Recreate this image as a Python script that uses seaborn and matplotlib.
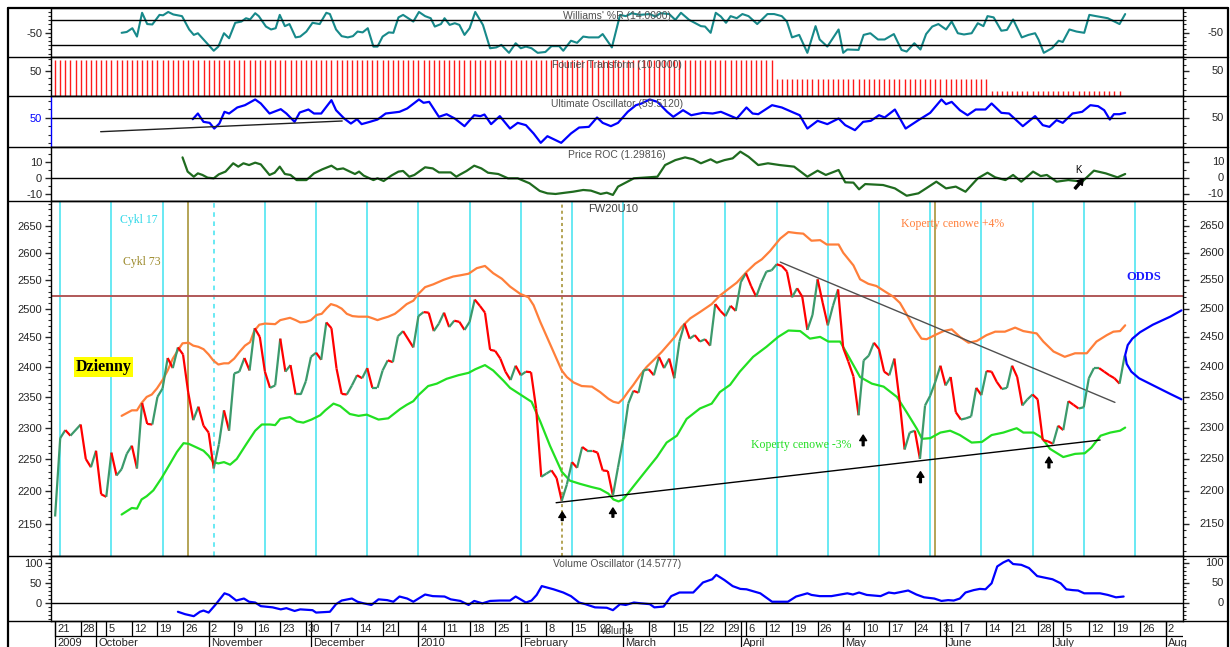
import numpy as np
import pandas as pd
import matplotlib
matplotlib.use('Agg')
import matplotlib.pyplot as plt
import seaborn as sns
from matplotlib.collections import LineCollection
from matplotlib.ticker import FixedLocator, FuncFormatter, NullFormatter
from matplotlib.transforms import blended_transform_factory

sns.set_style('white')
plt.rcParams['font.family'] = ['Liberation Sans', 'DejaVu Sans']
SERIF = ['Liberation Serif', 'DejaVu Serif']

# ---------------- data (x = trading day, 0 = 2009-09-21) ----------------
price = [(0, 2161), (1, 2283), (2, 2296), (3, 2287), (5, 2305), (6, 2250), (7, 2237), (8, 2263),
         (9, 2195), (10, 2191), (11, 2260), (12, 2224), (13, 2234), (14, 2258), (15, 2271), (16, 2235),
         (17, 2340), (18, 2306), (19, 2305), (20, 2350), (21, 2364), (22, 2415), (23, 2398), (24, 2433),
         (25, 2421), (26, 2358), (27, 2312), (28, 2334), (29, 2303), (30, 2292), (31, 2235), (32, 2273),
         (33, 2328), (34, 2295), (35, 2389), (36, 2392), (37, 2415), (38, 2394), (39, 2466), (40, 2451),
         (41, 2392), (42, 2365), (43, 2369), (44, 2448), (45, 2392), (46, 2403), (47, 2354), (48, 2354),
         (49, 2376), (50, 2417), (51, 2424), (52, 2412), (53, 2476), (54, 2466), (55, 2397), (56, 2355),
         (57, 2354), (58, 2369), (59, 2386), (60, 2381), (61, 2398), (62, 2365), (63, 2365), (64, 2394),
         (65, 2411), (66, 2408), (67, 2452), (68, 2461), (70, 2433), (71, 2487), (72, 2494), (73, 2493),
         (74, 2461), (75, 2474), (76, 2493), (77, 2468), (78, 2479), (79, 2477), (80, 2463), (81, 2477),
         (82, 2516), (83, 2505), (84, 2493), (85, 2429), (86, 2427), (87, 2414), (88, 2392), (89, 2378),
         (90, 2402), (91, 2386), (92, 2392), (93, 2391), (94, 2331), (95, 2222), (96, 2227), (97, 2232),
         (98, 2220), (99, 2185), (100, 2210), (101, 2245), (102, 2236), (103, 2269), (104, 2263),
         (105, 2263), (106, 2260), (107, 2232), (108, 2231), (109, 2193), (110, 2237), (111, 2281),
         (112, 2339), (113, 2360), (114, 2357), (115, 2394), (116, 2396), (117, 2386), (118, 2417),
         (119, 2398), (120, 2414), (121, 2381), (122, 2443), (123, 2474), (124, 2448), (125, 2454),
         (126, 2443), (127, 2447), (128, 2436), (129, 2508), (130, 2496), (131, 2487), (132, 2505),
         (133, 2496), (134, 2547), (135, 2563), (136, 2540), (137, 2521), (138, 2546), (139, 2566),
         (140, 2568), (141, 2579), (142, 2576), (143, 2566), (144, 2520), (145, 2536), (146, 2521),
         (147, 2463), (148, 2489), (149, 2552), (150, 2510), (151, 2471), (152, 2505), (153, 2534),
         (154, 2432), (155, 2409), (156, 2384), (157, 2320), (158, 2411), (159, 2419), (160, 2441),
         (161, 2430), (162, 2392), (163, 2386), (164, 2414), (165, 2345), (166, 2265), (167, 2292),
         (168, 2295), (169, 2250), (170, 2336), (171, 2352), (172, 2375), (173, 2402), (174, 2369),
         (175, 2383), (176, 2325), (177, 2313), (178, 2315), (179, 2318), (180, 2365), (181, 2353),
         (182, 2393), (183, 2392), (184, 2375), (185, 2363), (186, 2365), (187, 2402), (188, 2383),
         (189, 2336), (190, 2346), (191, 2354), (192, 2346), (193, 2280), (194, 2278), (195, 2274),
         (196, 2303), (197, 2296), (198, 2343), (199, 2337), (200, 2331), (201, 2333), (202, 2381),
         (203, 2398), (204, 2398), (205, 2392), (206, 2386), (207, 2381), (208, 2372), (209, 2419)]

env_upper = [(13, 2319), (13.9, 2323), (15, 2328), (16, 2328), (16.9, 2340), (17.9, 2350), (18.9, 2354),
             (19.9, 2364), (21, 2378), (22, 2394), (23, 2414), (24, 2428), (24.9, 2440), (26.1, 2441),
             (27, 2436), (28, 2434), (29, 2430), (30, 2421), (30.9, 2411), (31.9, 2404), (33, 2406),
             (33.9, 2406), (35, 2414), (36, 2425), (37.1, 2436), (38.1, 2442), (38.9, 2461), (39.9, 2472),
             (41, 2474), (43, 2473), (44, 2480), (45.9, 2484), (47, 2480), (47.9, 2476), (49, 2477),
             (50, 2480), (51.1, 2489), (52.1, 2491), (53.1, 2501), (53.9, 2508), (55, 2505), (56, 2500),
             (57, 2491), (58.1, 2487), (59.3, 2486), (61.1, 2486), (62.1, 2483), (63, 2480), (64, 2483),
             (65.1, 2486), (66.4, 2491), (67.4, 2498), (68.7, 2508), (70, 2514), (71, 2526), (72.3, 2538),
             (73.9, 2543), (75.9, 2551), (77.8, 2557), (79.1, 2559), (80.8, 2562), (82.4, 2572),
             (84, 2576), (85.6, 2563), (87.3, 2553), (88.9, 2539), (90.9, 2526), (92.5, 2520),
             (93.5, 2506), (94.8, 2477), (96.1, 2451), (97.4, 2425), (99, 2394), (100, 2383),
             (101.3, 2374), (102.9, 2368), (104.9, 2367), (106.5, 2358), (108.1, 2347), (109.1, 2342),
             (110.1, 2340), (111, 2347), (112, 2359), (113, 2370), (114.3, 2386), (115.6, 2400),
             (116.9, 2411), (118.5, 2425), (120.2, 2442), (121.1, 2451), (122.4, 2468), (124.1, 2483),
             (126, 2494), (128.3, 2508), (129.9, 2523), (131.6, 2535), (133.2, 2546), (135.2, 2566),
             (136.8, 2580), (138.1, 2588), (139.7, 2603), (141.7, 2626), (143.3, 2638), (144.9, 2636),
             (146.2, 2635), (147.8, 2622), (149.5, 2623), (150.8, 2615), (153.1, 2615), (154, 2600),
             (156, 2577), (157.3, 2552), (158.9, 2544), (160.5, 2540), (162.2, 2530), (163.8, 2521),
             (165.1, 2510), (166.4, 2490), (168, 2465), (169.3, 2448), (170.3, 2447), (171.9, 2454),
             (173.6, 2461), (175.2, 2464), (176.8, 2451), (178.5, 2441), (180.1, 2444), (182, 2454),
             (183.7, 2460), (185.6, 2460), (187.6, 2467), (189.2, 2461), (191.8, 2457), (193.1, 2443),
             (195.1, 2426), (197.3, 2417), (199.3, 2423), (201.6, 2423), (203.5, 2443), (205.5, 2454),
             (206.8, 2460), (208.1, 2461), (209.1, 2471)]

env_lower = [(13, 2164), (14, 2169), (15, 2174), (16, 2173), (16.9, 2187), (17.9, 2192), (19.2, 2201),
             (20.8, 2220), (22.5, 2243), (23.8, 2261), (25.1, 2275), (26.1, 2274), (27.7, 2268),
             (29, 2263), (30, 2255), (30.9, 2245), (31.9, 2243), (33, 2245), (34.2, 2241), (35.5, 2250),
             (37.4, 2274), (39.1, 2295), (40.4, 2305), (42, 2305), (43, 2304), (44, 2314), (45.9, 2317),
             (47.2, 2310), (48.5, 2308), (50.1, 2313), (51.8, 2320), (52.8, 2328), (54.4, 2339),
             (55.7, 2335), (57.6, 2322), (59.3, 2319), (60.9, 2321), (63.2, 2313), (65.1, 2315),
             (67.4, 2330), (68.7, 2337), (70, 2343), (71, 2353), (72.9, 2368), (74.6, 2372), (76.5, 2380),
             (78.8, 2386), (80.8, 2390), (82.1, 2396), (84, 2403), (85.6, 2394), (87.6, 2377),
             (88.9, 2365), (90.9, 2354), (93.1, 2342), (94.8, 2310), (96.7, 2271), (99, 2230),
             (100.6, 2216), (102.6, 2211), (104.9, 2206), (106.5, 2203), (108.1, 2196), (109.1, 2187),
             (110.1, 2184), (111, 2187), (113, 2207), (115.3, 2230), (117.6, 2253), (119.5, 2276),
             (121.5, 2287), (123.4, 2314), (126, 2331), (128.3, 2339), (129.9, 2358), (131.9, 2370),
             (133.8, 2392), (136.4, 2417), (139, 2434), (141.3, 2451), (143.3, 2462), (145.6, 2461),
             (147.5, 2448), (149.5, 2451), (151.1, 2443), (153.4, 2443), (154.7, 2423), (157.3, 2383),
             (159.6, 2372), (161.9, 2367), (164.5, 2350), (166.4, 2325), (168.4, 2298), (169.4, 2282),
             (171, 2283), (173, 2292), (174.9, 2295), (176.8, 2288), (179.1, 2276), (181.1, 2277),
             (183, 2288), (185.3, 2292), (187.9, 2299), (189.2, 2292), (191.2, 2292), (192.8, 2284),
             (194.4, 2266), (197, 2253), (199.3, 2258), (201.2, 2259), (202.5, 2268), (204.3, 2287),
             (206.2, 2292), (208.1, 2295), (209.1, 2300)]

odds = [(220.1, 2346), (217.9, 2355), (214.6, 2369), (211.8, 2381), (210.3, 2392), (209.4, 2405),
        (209.1, 2420), (209.6, 2437), (210.5, 2448), (212, 2459), (214.5, 2472), (217.9, 2486),
        (220.1, 2497)]

support_line = [(97.9, 2182), (204.2, 2280)]
resist_line = [(141.7, 2583), (207.1, 2341)]
level_2520 = 2522
arrow_day = [99.1, 109.0, 157.9, 169.1, 194.2]
arrow_top = [2168, 2174, 2288, 2230, 2253]
arrow_bottom = [2155, 2160, 2271, 2213, 2236]
cycle17_days = np.arange(1, 212, 10)
cycle17_dashed = 31
cycle73_days = [26, 99, 172]
cycle73_dotted = 99

williams = [(13, -50), (14, -48), (15.1, -39), (16, -59), (17, -2), (18, -29), (19, -30), (20.4, -7),
            (21.1, -8), (22.1, 0), (23.1, -6), (24.8, -10), (26.2, -42), (27.1, -55), (27.9, -51),
            (29, -66), (31, -93), (31.9, -83), (33, -51), (34, -63), (35.2, -26), (36.4, -23),
            (37.3, -15), (38.1, -18), (39.1, -3), (39.8, -10), (41.2, -35), (42.2, -42), (43.1, -39),
            (43.9, -7), (44.9, -34), (45.8, -29), (47, -61), (47.9, -59), (49.1, -47), (50.3, -26),
            (51.7, -29), (53, -2), (53.7, -5), (54.9, -42), (56, -58), (57.2, -61), (58.2, -58),
            (59.1, -47), (60.1, -49), (61.1, -39), (62.2, -83), (63, -83), (64, -59), (65.2, -49),
            (66.1, -50), (67.1, -13), (68, -7), (70, -23), (71.1, 0), (72.3, -10), (73.4, -15),
            (74.2, -35), (75.4, -29), (76.1, -15), (77.1, -31), (78.1, -27), (79, -31), (80, -55),
            (81, -39), (82.1, 0), (83.6, -31), (85, -87), (86.2, -85), (87.2, -79), (88.7, -98),
            (90, -75), (91, -87), (92, -83), (93.1, -87), (94.3, -98), (95.8, -96), (97, -82),
            (98.5, -82), (99.3, -93), (100.8, -69), (102, -74), (103.2, -59), (104.3, -61),
            (106.2, -61), (107, -53), (108.8, -85), (110.4, -7), (111.5, -10), (112.7, -3),
            (114.2, -7), (116.2, -5), (117.3, -11), (118.3, -3), (120, -5), (121.2, -19), (122.3, -2),
            (123.9, -19), (126.2, -34), (127, -35), (128.1, -50), (129.1, -2), (130.1, -11),
            (131.1, -26), (132, -10), (133.2, -15), (134.3, -5), (135.5, -10), (137.2, -29),
            (139.2, -5), (140.5, -5), (142, -10), (143, -23), (144, -61), (145.4, -55), (147, -98),
            (148.6, -34), (149.4, -66), (150.9, -83), (153.1, -42), (154, -98), (154.8, -90),
            (157, -91), (158, -55), (159.3, -51), (160.8, -66), (162.1, -66), (163.9, -53),
            (165.4, -91), (166.4, -95), (167.9, -75), (169.1, -90), (170.2, -53), (171.4, -35),
            (172.6, -29), (174.1, -42), (175.2, -23), (176.4, -51), (177.6, -54), (179.1, -51),
            (180.3, -27), (181.4, -34), (182.2, -10), (183.4, -13), (184.9, -45), (186, -43),
            (187.2, -18), (188.9, -61), (190.2, -55), (191.5, -51), (192.2, -67), (193.2, -98),
            (194.8, -87), (196.1, -69), (196.9, -72), (198.2, -42), (199.6, -47), (201.1, -50),
            (202.1, -7), (203.4, -10), (205.7, -15), (208, -29), (209.1, -5)]

fourier_first = [0, 141, 183]
fourier_last = [140, 182, 208]
fourier_level = [68.7, 37.3, 18.7]

ultimate = [(26.9, 48), (27.9, 54.7), (29, 44.9), (30.2, 43.7), (31.1, 37), (32.1, 42.9), (33.1, 56.7),
            (34, 54.7), (35.6, 61.8), (37.1, 64.5), (39.1, 71.2), (40.2, 66.5), (41.9, 54.7),
            (44.1, 59.8), (45.2, 54.7), (46.8, 44.9), (47.8, 55.9), (49.5, 59.4), (50.6, 54.7),
            (52, 54.7), (54, 70.4), (54.9, 58.6), (56.5, 48.8), (57.8, 42.9), (59, 48), (59.9, 42.2),
            (61.5, 44.9), (63, 47.6), (64.6, 54.7), (67.3, 56.7), (68.8, 60.6), (71.1, 71.2), (72, 67.3),
            (73.1, 68.4), (75, 50.8), (76.5, 53.9), (78.1, 48.8), (80, 39.8), (81.9, 52.7), (83.1, 51.6),
            (83.9, 53.5), (85.2, 42.2), (86.9, 51.6), (88.9, 37), (90.4, 43.7), (92, 41), (93.5, 31.2),
            (94.9, 20.2), (96.2, 28), (98.9, 20.2), (100.8, 31.2), (102.4, 38.2), (104.3, 39),
            (105.9, 50), (107, 43.7), (108.6, 39.8), (110, 43.7), (111.9, 56.7), (113.5, 64.5),
            (114.6, 66.5), (116.2, 71.2), (117.7, 68.4), (119.6, 56.7), (120.8, 50.8), (122.7, 58.6),
            (124.3, 52.7), (126.6, 55.5), (128.5, 54.7), (130.1, 56.7), (133.2, 48.8), (135.1, 61.8),
            (136.3, 54.7), (137.4, 53.9), (140.1, 64.5), (142, 61.8), (144.4, 55.5), (145.5, 52.7),
            (147, 37), (149, 46.1), (150.9, 42.2), (153.1, 48.8), (154.4, 41), (156.3, 35.1),
            (157.9, 44.9), (159.4, 46.1), (161, 52.7), (162.1, 50), (164.1, 59.4), (166.2, 37),
            (168.7, 46.9), (171, 55.5), (173.2, 71.2), (174.1, 65.7), (175.2, 68.4), (176.8, 58.6),
            (178.3, 52.7), (179.9, 59.4), (181.8, 59.4), (183, 66.5), (184.9, 55.5), (186.4, 54.7),
            (189.1, 39.8), (191.5, 51.6), (193, 41), (194.3, 39), (195.7, 46.9), (196.9, 43.7),
            (198.8, 54.7), (200.7, 56.7), (202.3, 64.5), (203.8, 63.3), (205, 58.6), (206.1, 47.6),
            (206.9, 53.9), (208, 53.9), (209.1, 55.5)]
ultimate_trend = [(8.9, 33.3), (56.1, 45.9)]

roc = [(24.9, 12.7), (25.9, 3.8), (27.1, 0.6), (27.9, 2.7), (28.8, 1.7), (29.8, 0), (31, -0.4),
       (32, 2.1), (33.3, 3.8), (34.8, 9), (35.8, 6.9), (36.8, 9), (37.9, 7.9), (39.1, 9.4), (40.2, 8.3),
       (41.9, 1.7), (42.9, 3.1), (43.9, 6.9), (44.9, 2.3), (46, 1.7), (47.2, -1.5), (49.1, -1.5),
       (50.6, 2.7), (52.2, 5.2), (54, 7.5), (55.1, 5.2), (56.3, 5.8), (57.6, 3.8), (58.6, 2.3),
       (59.4, 3.8), (60.3, 1.3), (62.2, -1.5), (63, -0.4), (64.2, -2.1), (65.7, 1.3), (67.1, 3.8),
       (68, 4.2), (69.2, 0.6), (70.2, 1.7), (72.3, 6.5), (73.8, 5.8), (75, 3.3), (77.3, 3.3),
       (78.4, 0.6), (79.2, 2.1), (80.4, 4.2), (81.9, 7.5), (83.3, 5.8), (84.6, 3.1), (86.6, 2.3),
       (88.5, -0.4), (90.4, -0.4), (92.7, -3.5), (94.7, -8.3), (96.2, -9.8), (97.8, -10.2),
       (99.7, -9.4), (101.2, -8.8), (103.2, -7.7), (104.7, -8.1), (106.6, -10.2), (107.8, -9.4),
       (109, -10.8), (110, -5.6), (113.1, -0.4), (117.7, 0.6), (119.2, 7.9), (121.2, 11),
       (123.1, 12.7), (124.7, 11.5), (126.2, 9), (128.1, 11.5), (129.3, 9.4), (130.8, 11),
       (132.4, 12.1), (133.9, 16.3), (135.5, 13.1), (137.4, 7.9), (139.3, 9), (141.6, 7.9),
       (144.4, 6.9), (147, 0.6), (149, 4.4), (150.6, 1.7), (153.1, 4.8), (154.4, -2.9), (156, -3.1),
       (157.1, -7.3), (158.3, -4), (161.8, -4.6), (164.1, -6.7), (166.4, -11.3), (168.7, -9.8),
       (170.2, -6.7), (172.2, -2.5), (174.1, -6.7), (176, -5.6), (177.9, -8.8), (180.3, -0.4),
       (182.2, 3.1), (183.7, 0.2), (185.7, -1.5), (187.2, 1.7), (188.8, -2.5), (191.1, 3.8),
       (192.6, 1), (193.8, 1.7), (195.7, -2.5), (198, -1.5), (200.7, -2.5), (203, 4.4), (205.3, 2.7),
       (207.6, 0.2), (209.1, 2.3)]

volume_osc = [(24, -21), (25.4, -27), (27.1, -32), (28.3, -21), (29, -18), (30, -23), (31.3, -4),
              (33.1, 25), (34, 21), (35.4, 7), (36.9, 12), (37.9, 4), (39.1, 2), (40.2, -7), (42.5, -10),
              (44.1, -15), (45.2, -12), (46.8, -19), (47.9, -15), (50.3, -17), (51, -23), (53.7, -21),
              (54.9, -2), (56, 7), (58, 12), (59.1, 4), (60.3, 0), (61.8, -4), (63.2, 10), (64.9, 8),
              (66.1, 4), (67.3, 17), (68.8, 12), (70, 4), (72.3, 22), (73.8, 18), (76.1, 17), (77.3, 10),
              (79.2, 6), (80.8, -4), (81.9, 6), (83.5, 0), (85, 6), (86.9, 7), (88.9, 7), (90, 17),
              (92, 2), (93.1, 7), (94.1, 21), (95.1, 43), (97.4, 35), (99.3, 27), (100.8, 18),
              (102.4, 2), (103.6, -2), (105.5, -10), (107.8, -11), (109, -17), (110.4, -2),
              (111.5, -4), (113.1, 2), (114.5, 0), (116.2, -2), (117.1, -10), (118.9, -8), (120.4, 18),
              (122, 27), (124.7, 27), (126.6, 52), (128.4, 60), (129.2, 71), (130.8, 58), (132.4, 43),
              (133.9, 36), (135.1, 35), (137.8, 25), (140.1, 4), (143.2, 4), (144.8, 17), (147, 25),
              (147.8, 21), (149.4, 18), (151.7, 18), (154.8, 25), (155.9, 22), (157.1, 27), (158.6, 21),
              (161.3, 18), (162.9, 27), (164, 25), (166.7, 32), (168.3, 22), (169.8, 15), (171.8, 12),
              (173.2, 6), (174.5, 8), (175.6, 7), (176.8, 12), (177.9, 27), (179.5, 33), (180.7, 36),
              (181.8, 35), (183, 50), (184.1, 92), (185.3, 102), (186.3, 108), (187.2, 98), (188.8, 96),
              (190.3, 88), (191.9, 68), (193, 65), (194.9, 60), (196.5, 50), (197.6, 35), (198.8, 33),
              (199.9, 32), (201.1, 25), (204.2, 25), (205.7, 21), (207.3, 15), (208.8, 17)]

week_dates = ['2009-09-21', '2009-09-28', '2009-10-05', '2009-10-12', '2009-10-19', '2009-10-26',
              '2009-11-02', '2009-11-09', '2009-11-16', '2009-11-23', '2009-11-30', '2009-12-07',
              '2009-12-14', '2009-12-21', '2009-12-28', '2010-01-04', '2010-01-11', '2010-01-18',
              '2010-01-25', '2010-02-01', '2010-02-08', '2010-02-15', '2010-02-22', '2010-03-01',
              '2010-03-08', '2010-03-15', '2010-03-22', '2010-03-29', '2010-04-06', '2010-04-12',
              '2010-04-19', '2010-04-26', '2010-05-04', '2010-05-10', '2010-05-17', '2010-05-24',
              '2010-05-31', '2010-06-07', '2010-06-14', '2010-06-21', '2010-06-28', '2010-07-05',
              '2010-07-12', '2010-07-19', '2010-07-26', '2010-08-02']
blank_weeks = ['2009-12-28']
month_dates = ['2009-09-21', '2009-10-01', '2009-11-02', '2009-12-01', '2010-01-04', '2010-02-01',
               '2010-03-01', '2010-04-01', '2010-05-04', '2010-06-01', '2010-07-01', '2010-08-02']
month_labels = ['2009', 'October', 'November', 'December', '2010', 'February', 'March', 'April',
                'May', 'June', 'July', 'Aug']
holidays = ['2009-11-11', '2009-12-24', '2009-12-25', '2010-01-01', '2010-04-02', '2010-04-05',
            '2010-05-03', '2010-06-03']

# trading calendar -> day index
cal = pd.bdate_range('2009-09-14', '2010-08-13')
cal = cal[~cal.isin(pd.to_datetime(holidays))]
day0 = cal.get_loc(pd.Timestamp('2009-09-21'))


def tday(d):
    return cal.get_loc(pd.Timestamp(d)) - day0


# ---------------- layout ----------------
W, H = 1230, 647
X0, X1 = 51, 1183
XLIM = (-0.8, 220.4)
fig = plt.figure(figsize=(W / 100, H / 100), dpi=100)
fig.patch.set_facecolor('white')


def make_panel(top, bottom):
    ax = fig.add_axes([X0 / W, 1 - bottom / H, (X1 - X0) / W, (bottom - top) / H])
    ax.set_facecolor('white')
    for s in ax.spines.values():
        s.set_visible(True)
        s.set_color('black')
        s.set_linewidth(1.0)
    return ax


def finish(ax, lim, major, minor, title=None, log=False):
    if log:
        ax.set_yscale('log')
    ax.set_xlim(*XLIM)
    ax.set_ylim(*lim)
    ax.set_xticks([])
    ax.set_xlabel('')
    ax.set_ylabel('')
    ax.yaxis.set_major_locator(FixedLocator(major))
    ax.yaxis.set_minor_locator(FixedLocator(minor))
    ax.yaxis.set_major_formatter(FuncFormatter(lambda v, p: f'{v:g}'))
    ax.yaxis.set_minor_formatter(NullFormatter())
    ax.tick_params(axis='y', which='major', left=True, right=True, length=4.3, width=1,
                   labelsize=8, pad=2, labelright=False)
    ax.tick_params(axis='y', which='minor', left=True, right=True, length=2.2, width=0.8)
    tr = blended_transform_factory(ax.transAxes, ax.transData)
    for v in major:
        ax.text(1 + 41 / (X1 - X0), v, f'{v:g}', transform=tr, ha='right', va='center', fontsize=8)
    if title:
        ax.annotate(title, xy=(0.5, 1), xycoords='axes fraction', xytext=(0, -2.5),
                    textcoords='offset points', ha='center', va='top', fontsize=7.5, color='#505050')


def xy(series):
    d, v = zip(*series)
    return np.array(d, float), np.array(v, float)


ARROW = dict(facecolor='black', edgecolor='black', width=1.3, headwidth=5, headlength=4, shrink=0)

# Williams %R
ax_wr = make_panel(8, 57)
d, v = xy(williams)
sns.lineplot(x=d, y=v, ax=ax_wr, color='#17898a', linewidth=1.5, estimator=None)
for lvl in (-20, -80):
    ax_wr.axhline(lvl, color='black', lw=1)
finish(ax_wr, (-108, 9.5), [-50], list(range(-100, 10, 10)), "Williams' %R (14.0000)")

# Fourier transform bars
ax_ft = make_panel(57, 96)
for first, last, level in zip(fourier_first, fourier_last, fourier_level):
    days = np.arange(first, last + 1)
    ax_ft.vlines(days, 0, level, color='#ff1a1a', lw=1)
finish(ax_ft, (10.8, 72.7), [50], [20, 30, 40, 60, 70], 'Fourier Transform (10.0000)')

# Ultimate oscillator
ax_uo = make_panel(96, 147)
d, v = xy(ultimate)
sns.lineplot(x=d, y=v, ax=ax_uo, color='#0000ff', linewidth=1.6, estimator=None)
d, v = xy(ultimate_trend)
ax_uo.plot(d, v, color='#202020', lw=1)
ax_uo.axhline(50, color='black', lw=1)
finish(ax_uo, (15.3, 75.3), [50], [20, 30, 40, 60, 70], 'Ultimate Oscillator (59.5120)')
ax_uo.spines['left'].set_color('blue')
for t in ax_uo.yaxis.get_major_ticks() + ax_uo.yaxis.get_minor_ticks():
    t.tick1line.set_color('blue')
    t.label1.set_color('blue')

# Price ROC
ax_roc = make_panel(147, 201)
d, v = xy(roc)
sns.lineplot(x=d, y=v, ax=ax_roc, color='#1f6b1f', linewidth=1.6, estimator=None)
ax_roc.axhline(0, color='black', lw=1)
ax_roc.text(199.9, 4.5, 'K', fontsize=7, ha='center', va='center', color='black')
ax_roc.annotate('', xy=(200.9, -0.8), xytext=(199.3, -6.8),
                arrowprops=dict(facecolor='black', edgecolor='black', width=1.5, headwidth=5,
                                headlength=4, shrink=0))
finish(ax_roc, (-14.6, 19.2), [-10, 0, 10], [-15, -5, 5, 15], 'Price ROC (1.29816)')

# Main price panel
ax = make_panel(201, 556)
ax.set_yscale('log')
for c in cycle17_days:
    ax.axvline(c, color='#40e3f0', lw=1.1, zorder=1,
               ls=(0, (3, 3)) if c == cycle17_dashed else '-')
for c in cycle73_days:
    ax.axvline(c, color='#a08c28', lw=1.1, zorder=1,
               ls=(0, (2, 2)) if c == cycle73_dotted else '-')
ax.axhline(level_2520, color='#b05858', lw=1.4, zorder=2)

d, v = xy(env_upper)
sns.lineplot(x=d, y=v, ax=ax, color='#ff7f3a', linewidth=1.6, estimator=None, zorder=3)
d, v = xy(env_lower)
sns.lineplot(x=d, y=v, ax=ax, color='#22e022', linewidth=1.6, estimator=None, zorder=3)

d, v = xy(support_line)
ax.plot(d, v, color='black', lw=1, zorder=3)
d, v = xy(resist_line)
ax.plot(d, v, color='#505050', lw=1, zorder=3)

pd_, pv = xy(price)
pts = np.column_stack([pd_, pv])
segs = np.stack([pts[:-1], pts[1:]], axis=1)
seg_colors = ['#3c9a6c' if b >= a else '#ff0000' for a, b in zip(pv[:-1], pv[1:])]
ax.add_collection(LineCollection(segs, colors=seg_colors, linewidths=1.6, zorder=4))

d, v = xy(odds)
sns.lineplot(x=d, y=v, ax=ax, color='#0000ff', linewidth=1.6, estimator=None, sort=False, zorder=4)

for x, top, bot in zip(arrow_day, arrow_top, arrow_bottom):
    ax.annotate('', xy=(x, top), xytext=(x, bot), arrowprops=ARROW)

ax.text(12.7, 2660, 'Cykl 17', family=SERIF, fontsize=8.5, color='#30d8e8', va='center')
ax.text(13.3, 2583, 'Cykl 73', family=SERIF, fontsize=8.5, color='#9c8a2c', va='center')
ax.text(4.0, 2400, 'Dzienny', family=SERIF, fontsize=11.5, fontweight='bold', color='black',
        va='center', bbox=dict(boxstyle='square,pad=0.12', fc='#ffff00', ec='none'))
ax.text(109, 2680, 'FW20U10', fontsize=8, color='#404040', ha='center', va='center')
ax.text(165.3, 2652, 'Koperty cenowe +4%', family=SERIF, fontsize=8.5, color='#ff7f3a', va='center')
ax.text(136, 2272, 'Koperty cenowe -3%', family=SERIF, fontsize=8.5, color='#22dd22', va='center')
ax.text(209.3, 2556, 'ODDS', family=SERIF, fontsize=9, fontweight='bold', color='#1a1aff', va='center')
main_major = list(range(2150, 2651, 50))
main_minor = [m for m in range(2110, 2700, 10) if m not in main_major]
finish(ax, (2102, 2696), main_major, main_minor, log=True)

# Volume oscillator
ax_vo = make_panel(556, 621)
d, v = xy(volume_osc)
sns.lineplot(x=d, y=v, ax=ax_vo, color='#0000ff', linewidth=1.6, estimator=None)
ax_vo.axhline(0, color='black', lw=1)
finish(ax_vo, (-44, 118), [0, 50, 100], [-40, -30, -20, -10, 10, 20, 30, 40, 60, 70, 80, 90, 110],
       'Volume Oscillator (14.5777)')

# Date axis (two rows)
axd = fig.add_axes([X0 / W, 0, (X1 - X0) / W, (H - 621) / H])
axd.set_xlim(*XLIM)
axd.set_ylim(0, 1)
axd.axis('off')
split = (H - 636) / (H - 621)
for wd in week_dates:
    x = tday(wd)
    axd.plot([x, x], [split, 1], color='black', lw=0.9)
    lab = '' if wd in blank_weeks else str(pd.Timestamp(wd).day)
    axd.text(x + 0.4, (1 + split) / 2, lab, fontsize=8, ha='left', va='center')
for md, lab in zip(month_dates, month_labels):
    x = tday(md)
    axd.plot([x, x], [0, 1], color='black', lw=0.9)
    axd.text(x + 0.4, split / 2 - 0.04, lab, fontsize=8, ha='left', va='center')
axd.plot([0, XLIM[1]], [split, split], color='black', lw=0.9)
# axis caption printed across the week labels, as in the source chart
axd.text(106.4, (1 + split) / 2 - 0.08, 'Volume', fontsize=7.5, color='#404040', ha='left', va='center')

# outer frame and panel separators
frame = fig.add_axes([0, 0, 1, 1], facecolor='none')
frame.set_xlim(0, W)
frame.set_ylim(H, 0)
frame.axis('off')
frame.plot([8, 8], [8, H], color='black', lw=1.6)
frame.plot([8, 1228], [8, 8], color='black', lw=1.6)
frame.plot([1228, 1228], [8, H], color='black', lw=1.6)
for y in [57, 96, 147, 201, 556, 621]:
    frame.plot([8, 1228], [y, y], color='black', lw=1)

fig.savefig('out.png', dpi=100, facecolor='white')
